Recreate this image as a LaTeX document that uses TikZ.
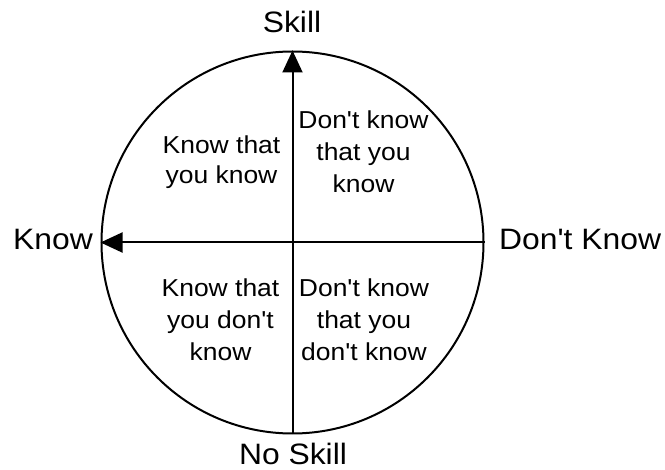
\documentclass[tikz,border=0pt]{standalone}
\usepackage{fontspec}
\setmainfont{Liberation Sans}[FakeStretch=1.08, Ligatures=TeXOff]
\usetikzlibrary{arrows.meta}
\begin{document}
\begin{tikzpicture}[x=1pt,y=-1pt,
  axislabel/.style={inner sep=0pt, font=\fontsize{29.5}{34}\selectfont},
  quadtext/.style={inner sep=0pt, align=center, font=\fontsize{24.5}{32}\selectfont},
  axis/.style={line width=2pt, -{Triangle[length=22pt,width=20pt]}}]
  \useasboundingbox (0,0) rectangle (665,470);
  % outer ring
  \node[circle, draw, line width=2pt, minimum size=382pt, inner sep=0pt] (ring) at (292.5,242.5) {};
  % axes
  \draw[axis] (ring.south) -- (ring.north);
  \draw[axis] (ring.east) -- (ring.west);
  % axis labels
  \node[axislabel, anchor=base] (skill) at (292,33) {Skill};
  \node[axislabel, anchor=base] (noskill) at (293,465) {No Skill};
  \node[axislabel, anchor=base east] (know) at (93,250) {Know};
  \node[axislabel, anchor=base west] (dontknow) at (499,250) {Don't Know};
  % quadrant texts (base anchor sits on the last line)
  \node[quadtext, anchor=base, font=\fontsize{24.5}{30}\selectfont] (q1) at (221.5,184) {Know that\\you know};
  \node[quadtext, anchor=base] (q2) at (363.5,193) {Don't know\\that you\\know};
  \node[quadtext, anchor=base] (q3) at (220.5,361) {Know that\\you don't\\know};
  \node[quadtext, anchor=base] (q4) at (364,361) {Don't know\\that you\\don't know};
\end{tikzpicture}
\end{document}
